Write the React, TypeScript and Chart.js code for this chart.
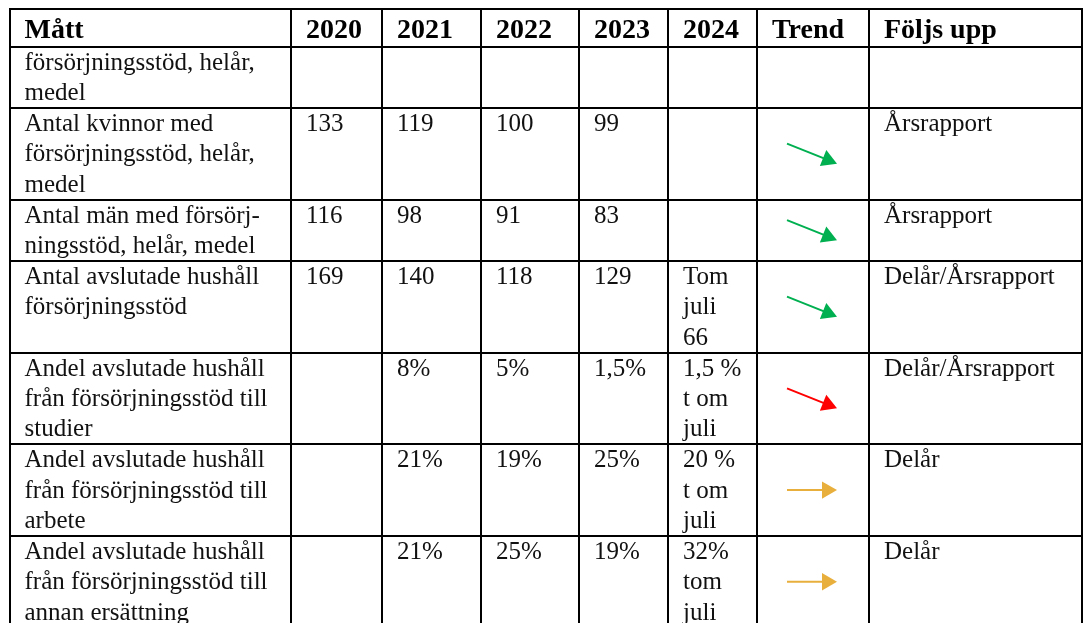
import React, { useEffect, useRef } from "react";
import { Chart, registerables } from "chart.js";

Chart.register(...registerables);

// ---------- data ----------
const headers = ["Mått", "2020", "2021", "2022", "2023", "2024", "Trend", "Följs upp"];

const measures = [
  "försörjningsstöd, helår,\nmedel",
  "Antal kvinnor med\nförsörjningsstöd, helår,\nmedel",
  "Antal män med försörj-\nningsstöd, helår, medel",
  "Antal avslutade hushåll\nförsörjningsstöd",
  "Andel avslutade hushåll\nfrån försörjningsstöd till\nstudier",
  "Andel avslutade hushåll\nfrån försörjningsstöd till\narbete",
  "Andel avslutade hushåll\nfrån försörjningsstöd till\nannan ersättning",
];

const values2020 = ["", "133", "116", "169", "", "", ""];
const values2021 = ["", "119", "98", "140", "8%", "21%", "21%"];
const values2022 = ["", "100", "91", "118", "5%", "19%", "25%"];
const values2023 = ["", "99", "83", "129", "1,5%", "25%", "19%"];
const values2024 = ["", "", "", "Tom\njuli\n66", "1,5 %\nt om\njuli", "20 %\nt om\njuli", "32%\ntom\njuli"];

const trendDirection: (string | null)[] = [null, "down", "down", "down", "down", "flat", "flat"];
const trendStatus: (string | null)[] = [null, "good", "good", "good", "bad", "neutral", "neutral"];

const followUp = ["", "Årsrapport", "Årsrapport", "Delår/Årsrapport", "Delår/Årsrapport", "Delår", "Delår"];

// ---------- layout / style ----------
const W = 1083;
const H = 623;
const TABLE_LEFT = 9.5;
const TABLE_TOP = 8.5;
const COL_WIDTHS = [281.5, 91, 99, 98, 89, 89, 112, 212.5];
const HEADER_H = 38;
const LINE_H = 30.4;
const ROW_EXTRA = 0.5;
const PAD_X = 15;
const HEADER_BASELINE = 29;
const BODY_BASELINE = 23;
const HEADER_FONT = 'bold 28px "Liberation Serif", "Times New Roman", serif';
const BODY_FONT = '25px "Liberation Serif", "Times New Roman", serif';
const STATUS_COLORS: Record<string, string> = { good: "#00B050", bad: "#FF0000", neutral: "#E8AF3C" };
const ARROW_BACK = 26;
const ARROW_FWD = 24;
const ARROW_DROP = 10;
const ARROW_HEAD_R = 10;

const columns = [measures, values2020, values2021, values2022, values2023, values2024, null, followUp];

const tableWidth = COL_WIDTHS.reduce((a, b) => a + b, 0);
const colEdges: number[] = [0];
COL_WIDTHS.forEach((w) => colEdges.push(colEdges[colEdges.length - 1] + w));

const rowLines = measures.map((_, r) =>
  Math.max(...columns.map((col) => (col ? col[r].split("\n").length : 1)))
);
const rowEdges: number[] = [0, HEADER_H];
rowLines.forEach((n) => rowEdges.push(rowEdges[rowEdges.length - 1] + n * LINE_H + ROW_EXTRA));

const Y_MAX = H - TABLE_TOP;

function buildArrowDatasets() {
  const sets: any[] = [];
  const trendCol = 6;
  const cx = (colEdges[trendCol] + colEdges[trendCol + 1]) / 2;
  trendDirection.forEach((dir, i) => {
    if (!dir) return;
    const cy = (rowEdges[i + 1] + rowEdges[i + 2]) / 2;
    const dy = dir === "down" ? ARROW_DROP : dir === "up" ? -ARROW_DROP : 0;
    const x0 = cx - ARROW_BACK;
    const y0 = cy - dy;
    const xt = cx + ARROW_FWD;
    const yt = cy + dy;
    const len = Math.hypot(xt - x0, yt - y0);
    const ux = (xt - x0) / len;
    const uy = (yt - y0) / len;
    const xc = xt - ux * ARROW_HEAD_R;
    const yc = yt - uy * ARROW_HEAD_R;
    const rot = (Math.atan2(uy, ux) * 180) / Math.PI + 90;
    const color = STATUS_COLORS[trendStatus[i] as string];
    sets.push({
      data: [
        { x: x0, y: y0 },
        { x: xc, y: yc },
      ],
      showLine: true,
      borderColor: color,
      borderWidth: 2,
      pointRadius: [0, ARROW_HEAD_R],
      pointStyle: "triangle",
      pointRotation: [0, rot],
      pointBackgroundColor: color,
      pointBorderColor: color,
      pointBorderWidth: 0,
      clip: false,
    });
  });
  return sets;
}

const tableTextPlugin = {
  id: "tableText",
  afterDraw(chart: any) {
    const { ctx } = chart;
    const xs = chart.scales.x;
    const ys = chart.scales.y;
    ctx.save();
    ctx.textAlign = "left";
    ctx.textBaseline = "alphabetic";
    ctx.font = HEADER_FONT;
    ctx.fillStyle = "#000";
    headers.forEach((h, c) => {
      ctx.fillText(h, xs.getPixelForValue(colEdges[c] + PAD_X), ys.getPixelForValue(HEADER_BASELINE));
    });
    ctx.font = BODY_FONT;
    ctx.fillStyle = "#111";
    measures.forEach((_, r) => {
      const top = rowEdges[r + 1];
      columns.forEach((col, c) => {
        if (!col) return;
        const txt = col[r];
        if (!txt) return;
        txt.split("\n").forEach((line, li) => {
          ctx.fillText(
            line,
            xs.getPixelForValue(colEdges[c] + PAD_X),
            ys.getPixelForValue(top + BODY_BASELINE + li * LINE_H)
          );
        });
      });
    });
    ctx.restore();
  },
};

export default function App() {
  const ref = useRef<HTMLCanvasElement | null>(null);
  useEffect(() => {
    document.body.style.margin = "0";
    const canvas = ref.current;
    if (!canvas) return;
    const gridOpts = { color: "#000", lineWidth: 2, drawTicks: false };
    const chart = new Chart(canvas, {
      type: "scatter",
      data: { datasets: buildArrowDatasets() },
      options: {
        responsive: false,
        animation: false,
        events: [],
        layout: {
          autoPadding: false,
          padding: { left: TABLE_LEFT, top: TABLE_TOP, right: W - TABLE_LEFT - tableWidth, bottom: 0 },
        },
        plugins: {
          legend: { display: false },
          tooltip: { enabled: false },
          title: { display: false },
        },
        scales: {
          x: {
            type: "linear",
            position: "top",
            min: 0,
            max: tableWidth,
            ticks: { display: false },
            grid: gridOpts,
            border: { display: true, color: "#000", width: 2 },
            afterBuildTicks: (s: any) => {
              s.ticks = colEdges.map((v) => ({ value: v }));
            },
          },
          y: {
            type: "linear",
            reverse: true,
            min: 0,
            max: Y_MAX,
            ticks: { display: false },
            grid: gridOpts,
            border: { display: true, color: "#000", width: 2 },
            afterBuildTicks: (s: any) => {
              s.ticks = rowEdges.filter((v) => v <= Y_MAX).map((v) => ({ value: v }));
            },
          },
        },
      } as any,
      plugins: [tableTextPlugin],
    });
    return () => chart.destroy();
  }, []);
  return (
    <div style={{ position: "absolute", left: 0, top: 0, width: W, height: H, background: "#fff" }}>
      <canvas ref={ref} width={W} height={H} style={{ display: "block" }} />
    </div>
  );
}
